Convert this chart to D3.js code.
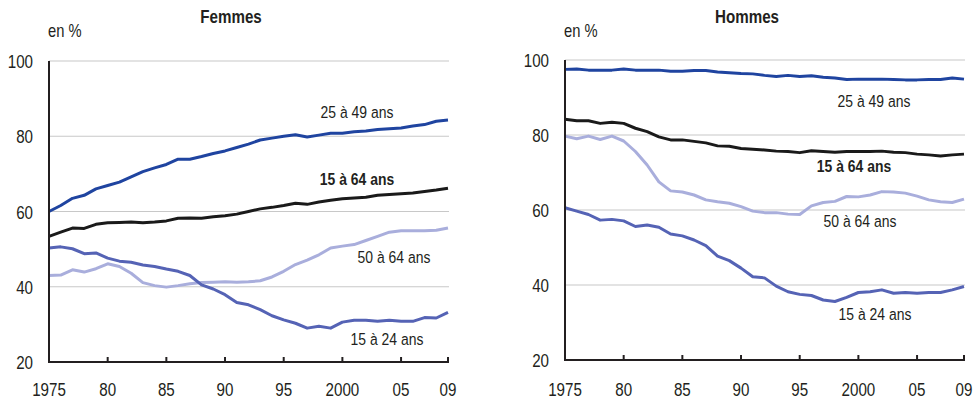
<!DOCTYPE html>
<html lang="fr">
<head>
<meta charset="UTF-8">
<title>Taux d'activité Femmes / Hommes</title>
<script src="https://d3js.org/d3.v7.min.js"></script>
<style>
  body { margin: 0; background: #fff; }
  svg text { font-family: "Liberation Sans", Arial, sans-serif; fill: #231f20; }
</style>
</head>
<body>
<svg width="973" height="399"></svg>
<script>
const years = d3.range(1975, 2010);
const xTicks = [1975, 1980, 1985, 1990, 1995, 2000, 2005, 2009];
const xTickLabels = ['1975', '80', '85', '90', '95', '2000', '05', '09'];
const yTicks = [20, 40, 60, 80, 100];

// Femmes
const f2549 = [60.0, 61.6, 63.5, 64.3, 66.0, 66.9, 67.8, 69.2, 70.6, 71.6, 72.5, 73.9, 73.9, 74.6, 75.4, 76.1, 77.0, 77.9, 79.0, 79.5, 80.0, 80.4, 79.8, 80.3, 80.8, 80.8, 81.2, 81.4, 81.8, 82.0, 82.2, 82.7, 83.1, 84.0, 84.3];
const f1564 = [53.4, 54.5, 55.6, 55.5, 56.6, 57.0, 57.1, 57.2, 57.0, 57.2, 57.5, 58.2, 58.3, 58.2, 58.6, 58.9, 59.3, 60.0, 60.7, 61.1, 61.6, 62.2, 61.9, 62.5, 63.0, 63.4, 63.6, 63.8, 64.3, 64.5, 64.7, 64.9, 65.3, 65.7, 66.2];
const f1524 = [50.3, 50.6, 50.1, 48.8, 49.0, 47.6, 46.8, 46.5, 45.8, 45.4, 44.7, 44.1, 43.0, 40.5, 39.4, 37.9, 35.8, 35.2, 33.9, 32.3, 31.2, 30.3, 29.0, 29.5, 29.0, 30.6, 31.1, 31.1, 30.8, 31.1, 30.8, 30.8, 31.8, 31.7, 33.2];
const f5064 = [43.0, 43.1, 44.5, 43.9, 44.8, 46.1, 45.4, 43.6, 41.1, 40.3, 39.9, 40.3, 40.8, 41.1, 41.2, 41.3, 41.2, 41.3, 41.6, 42.6, 44.1, 45.9, 47.1, 48.5, 50.3, 50.8, 51.2, 52.3, 53.4, 54.5, 54.9, 54.9, 54.9, 55.0, 55.6];

// Hommes
const h2549 = [97.5, 97.6, 97.3, 97.3, 97.3, 97.6, 97.3, 97.3, 97.3, 97.0, 97.0, 97.2, 97.2, 96.8, 96.6, 96.4, 96.3, 95.9, 95.6, 95.9, 95.6, 95.8, 95.4, 95.2, 94.8, 94.9, 94.9, 94.9, 94.8, 94.7, 94.7, 94.8, 94.8, 95.2, 94.9];
const h1564 = [84.2, 83.8, 83.8, 83.1, 83.4, 83.1, 81.8, 80.9, 79.5, 78.7, 78.7, 78.3, 77.9, 77.1, 77.0, 76.4, 76.2, 76.0, 75.7, 75.6, 75.3, 75.8, 75.6, 75.4, 75.6, 75.6, 75.6, 75.7, 75.4, 75.3, 74.9, 74.7, 74.4, 74.7, 74.9];
const h1524 = [60.6, 59.7, 58.8, 57.3, 57.5, 57.1, 55.6, 56.0, 55.4, 53.6, 53.1, 52.0, 50.5, 47.7, 46.5, 44.5, 42.2, 41.9, 39.7, 38.2, 37.5, 37.2, 36.0, 35.6, 36.7, 38.0, 38.2, 38.7, 37.8, 38.0, 37.8, 38.0, 38.0, 38.7, 39.6];
const h5064 = [79.7, 79.0, 79.7, 78.8, 79.7, 78.4, 75.6, 72.0, 67.5, 65.1, 64.8, 64.0, 62.7, 62.2, 61.8, 60.9, 59.7, 59.3, 59.3, 58.9, 58.8, 61.1, 62.0, 62.3, 63.6, 63.5, 64.0, 64.9, 64.8, 64.5, 63.7, 62.7, 62.2, 62.0, 62.9];

const colors = { c2549: '#1f44a0', c1564: '#1a1a1a', c1524: '#5563b5', c5064: '#a9aedc' };

const panels = [
  { title: 'Femmes', left: 49, right: 449, top: 61, bottom: 362,
    series: [
      { values: f5064, color: colors.c5064 },
      { values: f1524, color: colors.c1524 },
      { values: f1564, color: colors.c1564 },
      { values: f2549, color: colors.c2549 }
    ],
    labels: [
      { text: '25 à 49 ans', x: 357, y: 118, bold: false },
      { text: '15 à 64 ans', x: 357, y: 185, bold: true },
      { text: '50 à 64 ans', x: 394, y: 263, bold: false },
      { text: '15 à 24 ans', x: 387, y: 345, bold: false }
    ] },
  { title: 'Hommes', left: 565, right: 965, top: 60, bottom: 360,
    series: [
      { values: h5064, color: colors.c5064 },
      { values: h1524, color: colors.c1524 },
      { values: h1564, color: colors.c1564 },
      { values: h2549, color: colors.c2549 }
    ],
    labels: [
      { text: '25 à 49 ans', x: 874, y: 107, bold: false },
      { text: '15 à 64 ans', x: 854, y: 172, bold: true },
      { text: '50 à 64 ans', x: 860, y: 227, bold: false },
      { text: '15 à 24 ans', x: 875, y: 320, bold: false }
    ] }
];

const NARROW = 0.82;
const svg = d3.select('svg');

// condensed text: regular font squeezed horizontally
function narrowText(sel, x, y) {
  return sel.attr('x', 0).attr('y', 0)
    .attr('transform', (d, i) => `translate(${typeof x === 'function' ? x(d, i) : x},${typeof y === 'function' ? y(d, i) : y}) scale(${NARROW},1)`);
}

panels.forEach(p => {
  const x = d3.scaleLinear().domain([1975, 2009]).range([p.left, p.right - 1]);
  const y = d3.scaleLinear().domain([20, 100]).range([p.bottom, p.top]);
  const g = svg.append('g');

  // gridlines
  g.selectAll('.grid').data(yTicks.filter(t => t > 20)).enter()
    .append('line')
    .attr('x1', p.left).attr('x2', p.right)
    .attr('y1', d => y(d)).attr('y2', d => y(d))
    .attr('stroke', '#c8c8c8').attr('stroke-width', 1.2);

  // y tick labels
  g.selectAll('.ylab').data(yTicks).enter()
    .append('text')
    .call(narrowText, p.left - 16, d => y(d) + 7)
    .attr('text-anchor', 'end').attr('font-size', 18.5)
    .text(d => d);

  // lines
  const line = d3.line().x((d, i) => x(years[i])).y(d => y(d));
  g.selectAll('.series').data(p.series).enter()
    .append('path')
    .attr('d', d => line(d.values))
    .attr('fill', 'none')
    .attr('stroke', d => d.color)
    .attr('stroke-width', 3)
    .attr('stroke-linejoin', 'round');

  // axes
  g.append('line').attr('x1', p.left).attr('x2', p.left).attr('y1', p.top).attr('y2', p.bottom + 1)
    .attr('stroke', '#231f20').attr('stroke-width', 2);
  g.append('line').attr('x1', p.left - 1).attr('x2', p.right).attr('y1', p.bottom).attr('y2', p.bottom)
    .attr('stroke', '#231f20').attr('stroke-width', 2);
  g.selectAll('.xtick').data(xTicks.slice(1)).enter()
    .append('line')
    .attr('x1', d => x(d)).attr('x2', d => x(d))
    .attr('y1', p.bottom).attr('y2', p.bottom - 5)
    .attr('stroke', '#231f20').attr('stroke-width', 2);
  g.selectAll('.xlab').data(xTicks).enter()
    .append('text')
    .call(narrowText, d => x(d), 396)
    .attr('text-anchor', 'middle').attr('font-size', 18.5)
    .text((d, i) => xTickLabels[i]);

  // titles
  g.append('text').call(narrowText, (p.left + p.right) / 2 - 18, 23)
    .attr('text-anchor', 'middle').attr('font-size', 18.5).attr('font-weight', 'bold')
    .text(p.title);
  g.append('text').call(narrowText, p.left - 1, 37).attr('font-size', 18).text('en %');

  // series labels
  g.selectAll('.slab').data(p.labels).enter()
    .append('text')
    .call(narrowText, d => d.x, d => d.y)
    .attr('text-anchor', 'middle').attr('font-size', 17)
    .attr('font-weight', d => d.bold ? 'bold' : 'normal')
    .text(d => d.text);
});
</script>
</body>
</html>
